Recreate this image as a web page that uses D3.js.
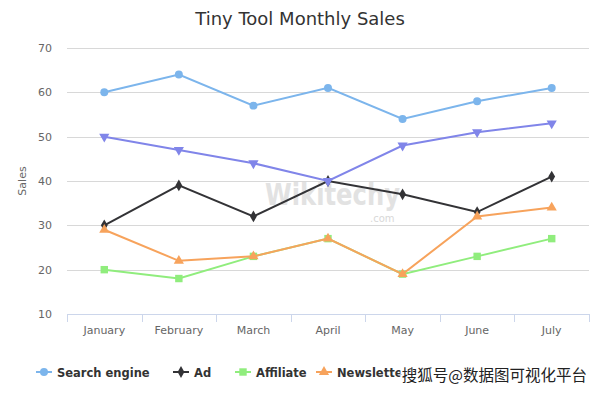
<!DOCTYPE html>
<html><head><meta charset="utf-8">
<script src="https://cdn.jsdelivr.net/npm/d3@7"></script>
<style>body{margin:0;background:#fff}svg{display:block}</style>
</head><body><svg id="c" width="600" height="393"></svg>
<script>
const categories = ["January","February","March","April","May","June","July"];
const searchEngine = [60,64,57,61,54,58,61];
const ad = [30,39,32,40,37,33,41];
const affiliate = [20,18,23,27,19,23,27];
const newsletter = [29,22,23,27,19,32,34];
const other = [50,47,44,40,48,51,53];
const yTicks = [10,20,30,40,50,60,70];
const seriesNames = ["Search engine","Ad","Affiliate","Newsletter","Other"];

(function(){
const series = [
  {name:seriesNames[0], values:searchEngine, color:"#7cb5ec", sym:d3.symbolCircle, size:50, legend:true},
  {name:seriesNames[1], values:ad, color:"#333336", sym:d3.symbolDiamond, size:40, legend:true},
  {name:seriesNames[2], values:affiliate, color:"#90ed7d", sym:d3.symbolSquare, size:55, legend:true},
  {name:seriesNames[3], values:newsletter, color:"#f7a35c", sym:d3.symbolTriangle, size:45, legend:true},
  {name:seriesNames[4], values:other, color:"#8085e9", sym:d3.symbolTriangle, size:45, down:true, legend:false}
];

const svg = d3.select("#c");
const font = "'DejaVu Sans', 'Open Sans', sans-serif";
const pLeft = 67, pRight = 589, pTop = 48, pBottom = 314;

const x = d3.scaleBand().domain(categories).range([pLeft, pRight]);
const y = d3.scaleLinear().domain([10,70]).range([pBottom, pTop]);

svg.append("text").attr("x",300).attr("y",25).attr("text-anchor","middle")
  .attr("font-family",font).attr("font-size",18).attr("fill","#333").text("Tiny Tool Monthly Sales");

svg.append("g").selectAll("line").data(yTicks.slice(1)).join("line")
  .attr("x1",pLeft).attr("x2",pRight).attr("y1",d=>Math.round(y(d))+0.5).attr("y2",d=>Math.round(y(d))+0.5)
  .attr("stroke","#d8d8d8").attr("stroke-width",1);

svg.append("g").selectAll("text").data(yTicks).join("text")
  .attr("x",52).attr("y",d=>y(d)+4).attr("text-anchor","end")
  .attr("font-family",font).attr("font-size",11).attr("fill","#666").text(d=>d);

svg.append("text").attr("transform",`translate(26,${(pTop+pBottom)/2}) rotate(-90)`)
  .attr("text-anchor","middle").attr("font-family",font).attr("font-size",11).attr("fill","#666").text("Sales");

const xAxis = d3.axisBottom(x).tickSize(0).tickPadding(12);
const gx = svg.append("g").attr("transform",`translate(0,${pBottom})`).call(xAxis);
gx.select(".domain").attr("stroke","#ccd6eb").attr("d",`M${pLeft},0.5H${pRight}`);
gx.selectAll("text").attr("font-family",font).attr("font-size",11).attr("fill","#666");
const bounds = categories.map(c=>x(c)).concat([pRight]);
gx.selectAll("line.b").data(bounds).join("line").attr("class","b")
  .attr("x1",d=>Math.round(d)+0.5).attr("x2",d=>Math.round(d)+0.5).attr("y1",0).attr("y2",8)
  .attr("stroke","#ccd6eb");

svg.append("text").attr("x",265).attr("y",205).attr("font-family",font).attr("fill","#e2e2e2")
  .attr("font-weight","bold").attr("font-size",30)
  .attr("textLength",135).attr("lengthAdjust","spacingAndGlyphs").text("Wikitechy");
svg.append("text").attr("x",370).attr("y",222).attr("font-family",font).attr("font-size",10)
  .attr("fill","#d8d8d8").text(".com");

const cx = d => x(categories[d]) + x.bandwidth()/2;
const line = d3.line().x((d,i)=>cx(i)).y(d=>y(d));

series.forEach(s=>{
  const g = svg.append("g");
  g.append("path").attr("d",line(s.values)).attr("fill","none").attr("stroke",s.color).attr("stroke-width",2);
  g.selectAll("path.m").data(s.values).join("path").attr("class","m")
    .attr("d",d3.symbol().type(s.sym).size(s.size))
    .attr("transform",(d,i)=>`translate(${cx(i)},${y(d)})${s.down?" rotate(180)":""}`)
    .attr("fill",s.color);
});

const legendX = [36,173,235,316];
const lg = svg.append("g");
series.filter(s=>s.legend).forEach((s,i)=>{
  const g = lg.append("g").attr("transform",`translate(${legendX[i]},372)`);
  g.append("line").attr("x1",0).attr("x2",16).attr("stroke",s.color).attr("stroke-width",2);
  g.append("path").attr("d",d3.symbol().type(s.sym).size(s.size)).attr("transform","translate(8,0)").attr("fill",s.color);
  g.append("text").attr("x",21).attr("y",4.5).attr("font-family",font).attr("font-weight","bold")
    .attr("font-size",11.5).attr("fill","#333").text(s.name);
});

svg.append("text").attr("x",587).attr("y",381).attr("text-anchor","end")
  .attr("font-family","'Noto Sans CJK SC', sans-serif").attr("font-size",15.5).attr("fill","#222")
  .attr("stroke","#fff").attr("stroke-width",4).attr("paint-order","stroke").text("搜狐号@数据图可视化平台");
})();
</script></body></html>
